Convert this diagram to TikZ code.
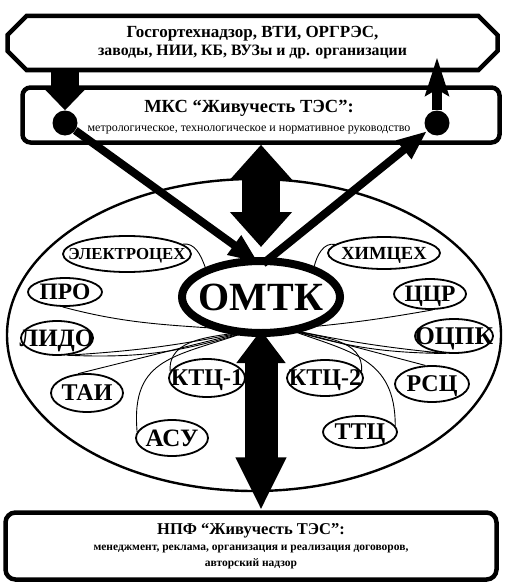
\documentclass[tikz,border=0pt]{standalone}
\usepackage{fontspec}
\setmainfont{Liberation Serif}
\usetikzlibrary{shapes.geometric,shapes.misc,arrows.meta}

\tikzset{
  panel/.style = {draw, line width=4.5pt, inner sep=0pt, align=center},
  flat/.style = {text height=0pt, text depth=0pt,
    execute at begin node={\hbox to 0pt\bgroup\hss\lower.33em\hbox\bgroup},
    execute at end node={\egroup\hss\egroup}},
  unit/.style = {ellipse, draw, line width=1.8pt, inner sep=0pt, flat,
    font=\bfseries\fontsize{#1}{#1}\selectfont},
  joint/.style = {circle, fill, inner sep=0pt, minimum size=25pt},
  link/.style = {line width=0.9pt},
  flow/.style = {line width=8pt, -{Triangle[width=22pt,length=30pt]}},
}

\begin{document}
\begin{tikzpicture}[x=1pt, y=-1pt]
  \useasboundingbox (0,0) rectangle (504,586);

  % big ring
  \draw[line width=2.4pt] (254,335) ellipse (247 and 156);

  % boxes
  \node[panel, chamfered rectangle, chamfered rectangle xsep=16pt,
        minimum width=490pt, minimum height=54pt,
        font=\bfseries\fontsize{17}{18}\selectfont] (org) at (252.5,43)
    {Госгортехнадзор, ВТИ, ОРГРЭС,\\
     \fontsize{15.8}{18}\selectfont заводы, НИИ, КБ, ВУЗы и др. организации};
  \node[panel, rounded corners=8pt, minimum width=477pt, minimum height=55pt] (mks) at (261,115) {};
  \node[align=center, font=\bfseries\fontsize{18.5}{19}\selectfont] (mkslabel) at (249,117)
    {МКС “Живучесть ТЭС”:\\
     \mdseries\fontsize{12}{19}\selectfont метрологическое, технологическое и нормативное руководство};
  \node[panel, rounded corners=10pt, minimum width=491pt, minimum height=67pt,
        font=\bfseries\fontsize{16.5}{16}\selectfont] (npf) at (251,546)
    {НПФ “Живучесть ТЭС”:\\
     \fontsize{11.5}{14}\selectfont менеджмент, реклама, организация и реализация договоров,\\
     \fontsize{11.5}{14}\selectfont авторский надзор};

  % units
  \foreach \n/\x/\y/\w/\h/\s/\t in {
      elec/127/254/128/36/16.8/ЭЛЕКТРОЦЕХ, pro/65/292/74/28/23.5/ПРО,
      lido/57/338/72/34/25/ЛИДО, tai/87/393/72/38/24/ТАИ,
      ktc1/207/378/76/38/24/КТЦ-1, asu/172/438/72/36/25/АСУ,
      chem/384/253/112/32/18.5/ХИМЦЕХ, ccr/430/294/72/30/23.5/ЦЦР,
      ocpk/454/336/78/34/25.5/ОЦПК, ktc2/325/378/76/36/24/КТЦ-2,
      rsc/432/384/74/36/24/РСЦ, ttc/360/432/74/32/24/ТТЦ}
    \node[unit=\s, minimum width=\w pt, minimum height=\h pt] (\n) at (\x,\y) {\t};

  \node[ellipse, draw, line width=8pt, fill=white, inner sep=0pt, flat,
        minimum width=158pt, minimum height=72pt,
        font=\bfseries\fontsize{40}{40}\selectfont] (omtk) at (261,297) {ОМТК};

  \coordinate (hubL) at (249,331);
  \coordinate (hubR) at (287,329);

  % links to the units
  \draw[link] (elec.10) to[out=10, in=110] (omtk.152);
  \draw[link] (chem.170) to[out=170, in=75] (omtk.30);
  \draw[link] (pro.-100) to[out=-15, in=175] (hubL);
  \draw[link] (lido.-60) to[bend right=4] (hubL) (lido.-60) to[bend right=10] (hubL);
  \draw[link] (tai.115) -- (hubL);
  \draw[link] (hubL) to[out=190, in=95] (ktc1.170);
  \draw[link] (hubL) to[out=200, in=95, looseness=1.3] (asu.170);
  \draw[link] (ccr.-80) to[out=190, in=5] (hubR);
  \draw[link] (hubR) to[bend right=3] (ocpk.-115) (hubR) to[bend right=8] (ocpk.-115);
  \draw[link] (hubR) -- (rsc.110);
  \draw[link] (hubR) to[out=-15, in=85] (ktc2.10);
  \draw[link] (hubR) to[out=-20, in=90, looseness=1.2] (ttc.10);

  \node[joint] (jl) at (65,123) {};
  \node[joint] (jr) at (437,123) {};

  % arrows
  \draw[line width=28pt, -{Triangle[width=41pt,length=22pt]}] (org.south -| jl) -- (jl.north);
  \draw[flow, shorten >=-9pt] (jl) -- (omtk.104);
  \draw[flow, shorten <=-10pt] (omtk.76) -- (jr);
  \draw[line width=10pt, -{Stealth[width=23pt,length=38pt,inset=6pt]}, shorten >=-15pt]
    (jr) -- (jr |- org.south);
  \draw[line width=38pt, {Triangle[width=60pt,length=35pt]}-{Triangle[width=60pt,length=35pt]},
        shorten >=10pt] (mks.south -| omtk) -- (omtk.north);
  \draw[line width=33pt, {Triangle[width=47pt,length=33pt]}-{Triangle[width=47pt,length=53pt]},
        shorten <=-7pt] (omtk.south) -- (omtk.south |- npf.north);
\end{tikzpicture}
\end{document}
